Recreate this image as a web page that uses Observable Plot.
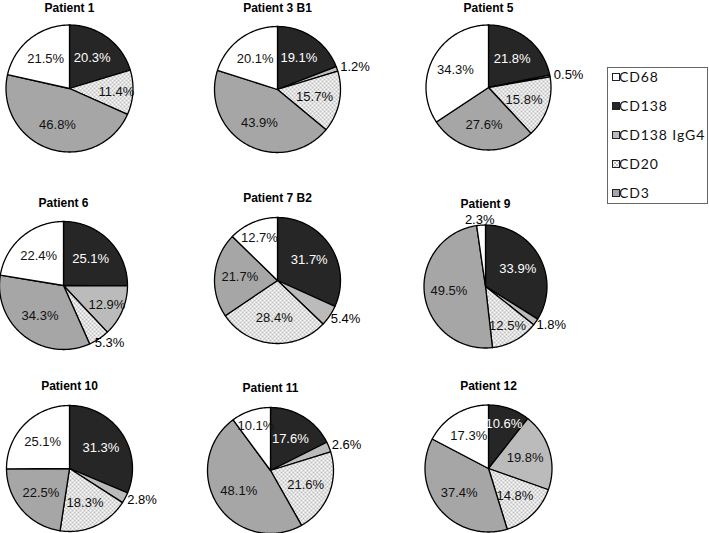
<!DOCTYPE html>
<html>
<head>
<meta charset="utf-8">
<script src="https://cdn.jsdelivr.net/npm/d3@7"></script>
<script src="https://cdn.jsdelivr.net/npm/@observablehq/plot@0.6"></script>
<style>
  body { margin: 0; background: #fff; }
  #root { position: relative; width: 709px; height: 533px; overflow: hidden; background: #fff; }
  .pie { position: absolute; }
  .pie svg { overflow: visible; }
  .legend { position: absolute; left: 607px; top: 67px; width: 101px; height: 137px;
            border: 1px solid #666; box-sizing: border-box; background: #fff; }
  .item { position: absolute; left: 0; height: 16px; line-height: 16px;
          font-family: Lato, "Open Sans", sans-serif; font-size: 14px; letter-spacing: 0.9px; color: #111; white-space: nowrap; }
  .item svg { position: absolute; left: 4px; top: 4px; }
  .item span { position: absolute; left: 11px; top: 0; }
</style>
</head>
<body>
<svg width="0" height="0" style="position:absolute">
  <defs>
    <pattern id="patCD20" width="4" height="4" patternUnits="userSpaceOnUse">
      <rect width="4" height="4" fill="#fff"/>
      <rect x="0.5" y="0.5" width="1" height="1" fill="#000"/>
      <rect x="2.5" y="2.5" width="1" height="1" fill="#000"/>
    </pattern>
    <pattern id="patIgG4" width="4" height="4" patternUnits="userSpaceOnUse">
      <rect width="4" height="4" fill="#a8a8a8"/>
      <rect x="0.5" y="0.5" width="1" height="1" fill="#fff"/>
      <rect x="2.5" y="2.5" width="1" height="1" fill="#fff"/>
      <rect x="2.5" y="0.5" width="1" height="1" fill="#e6e6e6"/>
      <rect x="0.5" y="2.5" width="1" height="1" fill="#e6e6e6"/>
    </pattern>
  </defs>
</svg>
<div id="root"></div>
<script>
// ---- data ----
const patients = ["Patient 1", "Patient 3 B1", "Patient 5", "Patient 6", "Patient 7 B2", "Patient 9", "Patient 10", "Patient 11", "Patient 12"];
// slice order, clockwise from 12 o'clock
const categories = ["CD138", "CD138 IgG4", "CD20", "CD3", "CD68"];
const legendOrder = ["CD68", "CD138", "CD138 IgG4", "CD20", "CD3"];
const cd138     = [20.3, 19.1, 21.8, 25.1, 31.7, 33.9, 31.3, 17.6, 10.6];
const cd138IgG4 = [0,    1.2,  0.5,  12.9, 5.4,  1.8,  2.8,  2.6,  19.8];
const cd20      = [11.4, 15.7, 15.8, 5.3,  28.4, 12.5, 18.3, 21.6, 14.8];
const cd3       = [46.8, 43.9, 27.6, 34.3, 21.7, 49.5, 22.5, 48.1, 37.4];
const cd68      = [21.5, 20.1, 34.3, 22.4, 12.7, 2.3,  25.1, 10.1, 17.3];

const series = {"CD138": cd138, "CD138 IgG4": cd138IgG4, "CD20": cd20, "CD3": cd3, "CD68": cd68};

// ---- layout & style ----
const layout = [ // pie centre (px) and radius (px)
  [68.5, 87.5, 63.5], [277, 89, 63], [488, 87, 62.5],
  [63, 285, 64], [277, 280, 63], [485, 286, 61.5],
  [68.5, 467.5, 63], [270, 470, 63], [488, 467.5, 63.5]
];
const fills = {"CD138": "#262626", "CD138 IgG4": "url(#patIgG4)", "CD20": "url(#patCD20)", "CD3": "#a6a6a6", "CD68": "#ffffff"};
const W = 200, H = 190, CX = 100, CY = 105;
const root = document.getElementById("root");

patients.forEach((name, i) => {
  const [cx0, cy0, r] = layout[i];
  const cx = Math.round(cx0), cy = Math.round(cy0);
  const vals = categories.map(c => ({cat: c, v: series[c][i]}));
  const total = d3.sum(vals, d => d.v);
  const pts = [], labels = [];
  let acc = 0;
  vals.forEach(d => {
    const a0 = acc / total * 2 * Math.PI;
    acc += d.v;
    const a1 = acc / total * 2 * Math.PI;
    if (d.v <= 0) return;
    const n = Math.max(2, Math.ceil((a1 - a0) / (Math.PI / 180)));
    pts.push({cat: d.cat, x: 0, y: 0});
    for (let j = 0; j <= n; j++) {
      const a = a0 + (a1 - a0) * j / n;
      pts.push({cat: d.cat, x: Math.sin(a), y: Math.cos(a)});
    }
    pts.push({cat: d.cat, x: 0, y: 0});
    const am = (a0 + a1) / 2, s = Math.sin(am), c = Math.cos(am);
    const text = d.v.toFixed(1) + "%";
    if (d.v < 6) {
      labels.push({text, x: s * (1 + 2 / r) + s * 17 / r, y: c * (1 + 2 / r) + c * 3 / r, color: "#000"});
    } else {
      const k = d.v < 13 ? 0.74 : 0.6;
      labels.push({text, x: s * k, y: c * k, color: d.cat === "CD138" ? "#fff" : "#111"});
    }
  });

  const titleDy = -Math.min(82, cy - 8);
  const marks = categories.map(cat =>
    Plot.line(pts.filter(p => p.cat === cat), {x: "x", y: "y", fill: fills[cat], stroke: "#000", strokeWidth: 1.3, curve: "linear"})
  );
  marks.push(Plot.text(labels, {x: "x", y: "y", text: "text", fill: "color", fontSize: 13, textAnchor: "middle", lineAnchor: "middle"}));
  marks.push(Plot.text([name], {x: () => 0, y: () => 0, text: d => d, dy: titleDy, fontSize: 12, fontWeight: "bold", fill: "#000", lineAnchor: "middle"}));

  const chart = Plot.plot({
    width: W, height: H, margin: 0,
    x: {domain: [-CX / r, (W - CX) / r], axis: null},
    y: {domain: [-(H - CY) / r, CY / r], axis: null},
    style: {background: "transparent", overflow: "visible", fontFamily: "'Liberation Sans', Arial, sans-serif"},
    marks
  });
  const div = document.createElement("div");
  div.className = "pie";
  div.style.left = (cx - CX) + "px";
  div.style.top = (cy - CY) + "px";
  div.style.width = W + "px";
  div.style.height = H + "px";
  div.appendChild(chart);
  root.appendChild(div);
});

// ---- legend ----
const leg = d3.select(root).append("div").attr("class", "legend");
legendOrder.forEach((cat, k) => {
  const it = leg.append("div").attr("class", "item").style("top", (1 + 29 * k) + "px");
  const sw = it.append("svg").attr("width", 8).attr("height", 8);
  sw.append("rect").attr("x", 0.5).attr("y", 0.5).attr("width", 7).attr("height", 7)
    .attr("fill", fills[cat]).attr("stroke", "#222").attr("stroke-width", 1);
  it.append("span").text(cat);
});
</script>
</body>
</html>
